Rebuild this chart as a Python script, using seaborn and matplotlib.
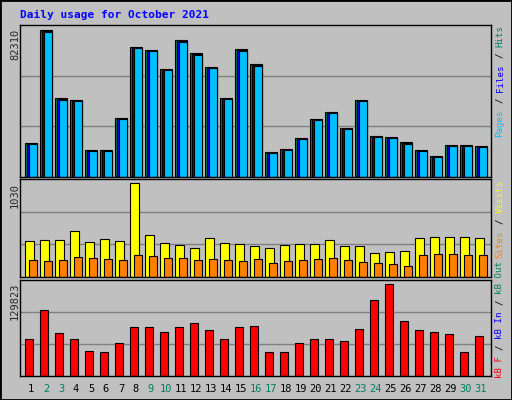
import numpy as np
import matplotlib
matplotlib.use("Agg")
import matplotlib.pyplot as plt
import seaborn as sns

sns.set_style("white")
plt.rcParams['font.family'] = ['DejaVu Sans Mono', 'DejaVu Sans']

days = list(range(1, 32))
weekend = [2, 3, 9, 10, 16, 17, 23, 24, 30, 31]
hits = [18870, 82310, 44310, 43190, 15270, 15270, 33150, 72820, 71140, 60530,
        76730, 69470, 61650, 44310, 71700, 63320, 14150, 15830, 21980, 32590,
        36500, 27560, 43190, 23090, 22530, 19740, 15270, 11920, 18060, 18060, 17500]
files = [18310, 81750, 43750, 42630, 14710, 14710, 32590, 72260, 70580, 59970,
         76170, 68910, 61090, 43750, 71140, 62760, 13590, 15270, 21420, 32030,
         35940, 27000, 42630, 22530, 21980, 19180, 14710, 11360, 17500, 17500, 16940]
pages = [18310, 81190, 43190, 42630, 14710, 14710, 32590, 72260, 70580, 59970,
         75610, 68350, 61090, 43750, 70580, 62200, 13590, 15270, 21420, 32030,
         35940, 27000, 42630, 22530, 21980, 18620, 14710, 11360, 17500, 17500, 16940]
visits = [394, 405, 405, 506, 383, 416, 394, 1030, 461, 372, 349, 316, 424, 372, 361,
          338, 316, 349, 361, 361, 405, 338, 338, 260, 271, 283, 424, 435, 435, 435, 424]
sites = [182, 171, 182, 216, 205, 193, 182, 238, 227, 205, 205, 182, 193, 182, 171,
         193, 149, 171, 182, 193, 205, 182, 160, 149, 138, 126, 238, 249, 249, 238, 238]
kbf = [53080, 92870, 61600, 53080, 36030, 34610, 47400, 70130, 70130, 63030,
       70130, 75820, 65870, 53080, 70130, 71550, 34610, 34610, 47400, 53080,
       53080, 50240, 67290, 107080, 129823, 78660, 65870, 63030, 60190, 34610, 56510]

BG = '#c0c0c0'
W, H = 512, 400
fig = plt.figure(figsize=(W/100, H/100), dpi=100, facecolor=BG)

def ax_px(x0, y0, x1, y1):
    return fig.add_axes([x0/W, 1-y1/H, (x1-x0)/W, (y1-y0)/H])

def setup(ax, ymax):
    ax.set_facecolor(BG)
    ax.set_xlim(0.267, 31.667)
    ax.set_ylim(0, ymax)
    for f in (1/3, 2/3):
        ax.axhline(ymax*f, color='#808080', lw=1, zorder=0)
    ax.set_xticks([]); ax.set_yticks([])
    for s in ax.spines.values():
        s.set_color('black'); s.set_linewidth(1)

d = np.array(days, dtype=float)
ec = dict(edgecolor='black', linewidth=0.8, align='edge')

ax1 = ax_px(20, 25, 491, 177)
setup(ax1, 84940)
ax1.bar(d-0.38, hits, width=0.76, color='#008040', **ec)
ax1.bar(d-0.28, files, width=0.66, color='#0000ff', **ec)
ax1.bar(d-0.11, pages, width=0.49, color='#00bfff', **ec)

ax2 = ax_px(20, 179, 491, 277)
setup(ax2, 1079)
ax2.bar(d-0.38, visits, width=0.56, color='#ffff00', **ec)
ax2.bar(d-0.11, sites, width=0.49, color='#ff8000', **ec)

ax3 = ax_px(20, 280, 491, 376)
setup(ax3, 136080)
ax3.bar(d-0.38, kbf, width=0.49, color='#ff0000', **ec)

def ftext(xp, yp, s, fs=7, **kw):
    fig.text(xp/W, 1-yp/H, s, fontsize=fs, **kw)

ftext(20, 15, "Daily usage for October 2021", fs=8, color='#0000ff', weight='bold', va='center')
ftext(15, 29, "82310", fs=7.5, rotation=90, ha='center', va='top')
ftext(15, 183, "1030", fs=7.5, rotation=90, ha='center', va='top')
ftext(15, 283, "129823", fs=7.5, rotation=90, ha='center', va='top')

for dd in days:
    x = 20 + (dd - 0.267) * 15
    ftext(x, 389, str(dd), fs=7.5, ha='center', va='center',
          color='#008060' if dd in weekend else 'black')

LFS = 6.6
CW = 0.602 * LFS * 100 / 72 + 0.1
def legend(yb, parts):
    y = yb
    for s, c in parts:
        ftext(500, y, s.strip() if s.strip() else s, fs=LFS, rotation=90,
              ha='center', va='bottom', color=c)
        y -= CW * len(s)

def leg_parts(items):
    out = []
    for i, (s, c) in enumerate(items):
        if i:
            out.append(("/", '#000000') if False else None)
        out.append((s, c))
    return out

def legend2(yb, items):
    y = yb
    for i, (s, c) in enumerate(items):
        if i:
            y -= CW * 1
            ftext(500, y, "/", fs=LFS, rotation=90, ha='center', va='bottom', color='black')
            y -= CW * 2
        ftext(500, y, s, fs=LFS, rotation=90, ha='center', va='bottom', color=c)
        y -= CW * len(s)

legend2(137, [("Pages", '#00bfff'), ("Files", '#0000ff'), ("Hits", '#008060')])
legend2(258, [("Sites", '#ff8000'), ("Visits", '#ffff00')])
legend2(378, [("kB F", '#ff0000'), ("kB In", '#0000ff'), ("kB Out", '#008060')])

fig.patches.append(plt.Rectangle((0, 0), 1, 1, transform=fig.transFigure,
                                 fill=False, edgecolor='black', linewidth=2))
fig.savefig("out.png", dpi=100, facecolor=BG)
